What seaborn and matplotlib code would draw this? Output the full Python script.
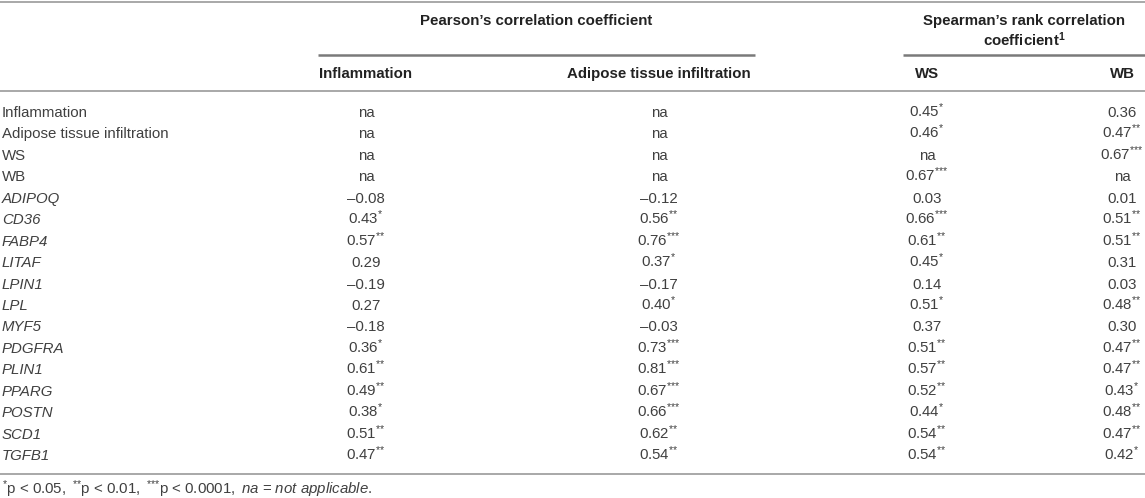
import numpy as np
import pandas as pd
import seaborn as sns
import matplotlib.pyplot as plt

# Table content
row_labels = ["Inflammation", "Adipose tissue infiltration", "WS", "WB",
              "ADIPOQ", "CD36", "FABP4", "LITAF", "LPIN1", "LPL", "MYF5",
              "PDGFRA", "PLIN1", "PPARG", "POSTN", "SCD1", "TGFB1"]
n_plain = 4  # first rows are phenotypes, the rest are genes (italic)

# values (nan = not applicable) and number of significance stars
pearson_infl = [np.nan, np.nan, np.nan, np.nan, -0.08, 0.43, 0.57, 0.29, -0.19,
                0.27, -0.18, 0.36, 0.61, 0.49, 0.38, 0.51, 0.47]
pearson_infl_sig = [0, 0, 0, 0, 0, 1, 2, 0, 0, 0, 0, 1, 2, 2, 1, 2, 2]

pearson_adip = [np.nan, np.nan, np.nan, np.nan, -0.12, 0.56, 0.76, 0.37, -0.17,
                0.40, -0.03, 0.73, 0.81, 0.67, 0.66, 0.62, 0.54]
pearson_adip_sig = [0, 0, 0, 0, 0, 2, 3, 1, 0, 1, 0, 3, 3, 3, 3, 2, 2]

spearman_ws = [0.45, 0.46, np.nan, 0.67, 0.03, 0.66, 0.61, 0.45, 0.14, 0.51,
               0.37, 0.51, 0.57, 0.52, 0.44, 0.54, 0.54]
spearman_ws_sig = [1, 1, 0, 3, 0, 3, 2, 1, 0, 1, 0, 2, 2, 2, 1, 2, 2]

spearman_wb = [0.36, 0.47, 0.67, np.nan, 0.01, 0.51, 0.51, 0.31, 0.03, 0.48,
               0.30, 0.47, 0.47, 0.43, 0.48, 0.47, 0.42]
spearman_wb_sig = [0, 2, 3, 0, 0, 2, 2, 0, 0, 2, 0, 2, 2, 1, 2, 2, 1]

col_names = ["Inflammation", "Adipose tissue infiltration", "WS", "WB"]
group_names = ["Pearson\u2019s correlation coefficient",
               "Spearman\u2019s rank correlation\ncoefficient$^{\\mathbf{1}}$"]

df = pd.DataFrame({
    "Inflammation": pearson_infl, "Adipose tissue infiltration": pearson_adip,
    "WS": spearman_ws, "WB": spearman_wb}, index=row_labels)
sig = pd.DataFrame({
    "Inflammation": pearson_infl_sig, "Adipose tissue infiltration": pearson_adip_sig,
    "WS": spearman_ws_sig, "WB": spearman_wb_sig}, index=row_labels)


def stars(n):
    # braces keep mathtext from spacing the asterisks like binary operators
    return "$^{\\mathrm{" + "{*}" * n + "}}$"


def fmt(v, n):
    if np.isnan(v):
        return "na"
    s = f"{abs(v):.2f}"
    if v < 0:
        s = "\u2013" + s
    if n > 0:
        s += stars(n)
    return s


sns.set_theme(style="white")
plt.rcParams["font.family"] = ["Liberation Sans", "DejaVu Sans"]
plt.rcParams["mathtext.fontset"] = "custom"
plt.rcParams["mathtext.rm"] = "Liberation Sans"
plt.rcParams["mathtext.it"] = "Liberation Sans:italic"
plt.rcParams["mathtext.bf"] = "Liberation Sans:bold"

fig = plt.figure(figsize=(11.45, 4.98), dpi=100)
ax = fig.add_axes([0, 0, 1, 1])
ax.set_xlim(0, 1145)
ax.set_ylim(498, 0)
ax.axis("off")

fs = 10.8
body_col = "#404040"
head_col = "#222222"
line_col = "#a8a8a8"

col_x = [366, 659, 927, 1122]
row_y0, row_dy = 111.7, 21.45
base_off = 5.2

# rules
ax.hlines([1.5, 91, 474], 0, 1145, color=line_col, lw=1.4)
ax.hlines(55, 318, 755, color="#7a7a7a", lw=1.8)
ax.hlines(55, 903, 1145, color="#7a7a7a", lw=1.8)

# group headers
g1, g2 = group_names[1].split("\n")
ax.text((318 + 755) / 2, 20 + base_off, group_names[0], ha="center", va="baseline",
        fontsize=fs, fontweight="bold", color=head_col)
ax.text((903 + 1145) / 2, 20 + base_off, g1, ha="center",
        va="baseline", fontsize=fs, fontweight="bold", color=head_col)
ax.text((903 + 1145) / 2, 41 + base_off, g2, ha="center",
        va="baseline", fontsize=fs, fontweight="bold", color=head_col)

# column headers
for x, name in zip(col_x, col_names):
    ax.text(x, 73 + base_off, name, ha="center", va="baseline", fontsize=fs,
            fontweight="bold", color=head_col)

# body
for i, label in enumerate(df.index):
    y = row_y0 + i * row_dy + base_off
    ax.text(2, y, label, ha="left", va="baseline", fontsize=fs, color=body_col,
            style="normal" if i < n_plain else "italic")
    for x, c in zip(col_x, df.columns):
        ax.text(x, y, fmt(df.loc[label, c], sig.loc[label, c]), ha="center",
                va="baseline", fontsize=fs, color=body_col)

# footnote
foot = (stars(1) + "p < $\\mathit{0.05,}$ " + stars(2) + "p < $\\mathit{0.01,}$ "
        + stars(3) + "p < $\\mathit{0.0001,}$ $\\mathit{na}$ = "
        "$\\mathit{not\\ applicable.}$")
ax.text(2, 494, foot, ha="left", va="baseline", fontsize=fs, color=body_col)

fig.savefig("out.png", dpi=100)
